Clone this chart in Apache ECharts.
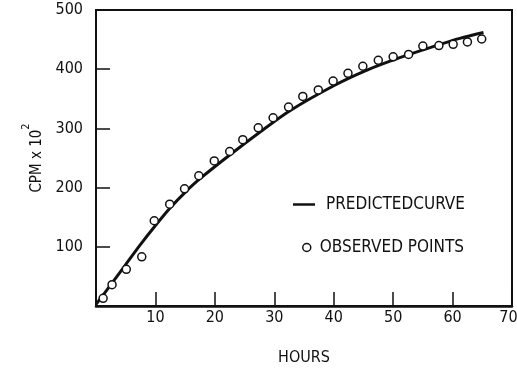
<!DOCTYPE html>
<html>
<head>
<meta charset="utf-8">
<script src="https://cdn.jsdelivr.net/npm/echarts@6/dist/echarts.min.js"></script>
<style>
  html, body { margin: 0; padding: 0; background: #fff; }
  #chart { width: 517px; height: 368px; }
</style>
</head>
<body>
<div id="chart"></div>
<script>
// Predicted uptake curve (hours, CPM x 10^2)
const curveHours = [0, 1, 3, 5, 7.5, 10, 12.5, 15, 17.5, 22.5, 27.5, 32.5, 40, 45.5, 51, 56.7, 61.2, 65.2];
const curveCpm   = [3, 16, 43, 70, 104, 136, 166, 192, 215, 255, 293, 329, 372, 398, 419, 438, 452, 462];

// Observed counts (hours, CPM x 10^2)
const obsHours = [1.2, 2.7, 5.1, 7.7, 9.8, 12.4, 14.9, 17.3, 19.9, 22.5, 24.7, 27.3, 29.8, 32.4, 34.8, 37.4, 39.9, 42.4, 44.9, 47.5, 50.0, 52.6, 55.0, 57.7, 60.1, 62.5, 64.9];
const obsCpm   = [13, 36, 62, 83, 144, 172, 198, 220, 245, 261, 281, 301, 318, 336, 354, 365, 380, 393, 405, 415, 421, 425, 439, 440, 442, 446, 451];

const xTicks = { min: 0, max: 70, interval: 10 };
const yTicks = { min: 0, max: 500, interval: 100 };

const FONT = "'DejaVu Sans Condensed', 'Liberation Sans Narrow', sans-serif";
const INK = '#111';

const chart = echarts.init(document.getElementById('chart'), null, { renderer: 'canvas' });

const hideZero = v => (v === 0 ? '' : String(v));
// the last hour label sits at the frame edge, nudge it inward a little
const xLabel = v => (v === 0 ? '' : v === xTicks.max ? '{edge|' + v + '}' : String(v));

chart.setOption({
  animation: false,
  backgroundColor: '#fff',
  grid: {
    left: 96, right: 5, top: 10, bottom: 62,
    outerBoundsMode: 'none',
    containLabel: false,
    show: true, borderColor: INK, borderWidth: 2
  },
  legend: [
    {
      data: [{ name: 'PREDICTEDCURVE', icon: 'rect', itemStyle: { color: INK } }],
      left: 288, top: 191,
      itemWidth: 22, itemHeight: 2.5,
      textStyle: { fontFamily: FONT, fontSize: 17, color: INK, padding: [0, 0, 0, 6] }
    },
    {
      data: [{ name: 'OBSERVED POINTS', icon: 'circle' }],
      left: 297, top: 234,
      itemWidth: 8, itemHeight: 8,
      itemStyle: { color: '#fff', borderColor: INK, borderWidth: 1.5 },
      textStyle: { fontFamily: FONT, fontSize: 17, color: INK, padding: [0, 0, 0, 4] }
    }
  ],
  xAxis: {
    type: 'value',
    min: xTicks.min, max: xTicks.max, interval: xTicks.interval,
    name: 'HOURS',
    nameLocation: 'middle',
    nameGap: 44,
    nameTextStyle: { fontFamily: FONT, fontSize: 16, color: INK },
    axisLine: { show: true, onZero: false, lineStyle: { color: INK, width: 2.5 } },
    axisTick: { show: true, inside: true, length: 14, lineStyle: { color: INK, width: 1.5 } },
    axisLabel: {
      fontFamily: FONT, fontSize: 16, color: INK, margin: 4, formatter: xLabel,
      rich: { edge: { fontFamily: FONT, fontSize: 16, color: INK, padding: [0, 7, 0, 0] } }
    },
    splitLine: { show: false }
  },
  yAxis: {
    type: 'value',
    min: yTicks.min, max: yTicks.max, interval: yTicks.interval,
    name: '{a|CPM x 10}{b|2}',
    nameLocation: 'middle',
    nameGap: 50,
    nameTextStyle: {
      fontFamily: FONT, color: INK,
      rich: {
        a: { fontFamily: FONT, fontSize: 15, color: INK, lineHeight: 24, verticalAlign: 'bottom' },
        b: { fontFamily: FONT, fontSize: 11, color: INK, lineHeight: 24, verticalAlign: 'top' }
      }
    },
    axisLine: { show: true, onZero: false, lineStyle: { color: INK, width: 2 } },
    axisTick: { show: true, inside: true, length: 14, lineStyle: { color: INK, width: 1.5 } },
    axisLabel: { fontFamily: FONT, fontSize: 16, color: INK, margin: 13, formatter: hideZero },
    splitLine: { show: false }
  },
  series: [
    {
      name: 'PREDICTEDCURVE',
      type: 'line',
      data: curveHours.map((h, i) => [h, curveCpm[i]]),
      smooth: 0.3,
      symbol: 'none',
      lineStyle: { color: INK, width: 3 },
      itemStyle: { color: INK },
      z: 2
    },
    {
      name: 'OBSERVED POINTS',
      type: 'scatter',
      data: obsHours.map((h, i) => [h, obsCpm[i]]),
      symbol: 'circle',
      symbolSize: 8,
      itemStyle: { color: '#fff', borderColor: INK, borderWidth: 1.5, opacity: 1 },
      z: 3
    }
  ]
});
</script>
</body>
</html>
